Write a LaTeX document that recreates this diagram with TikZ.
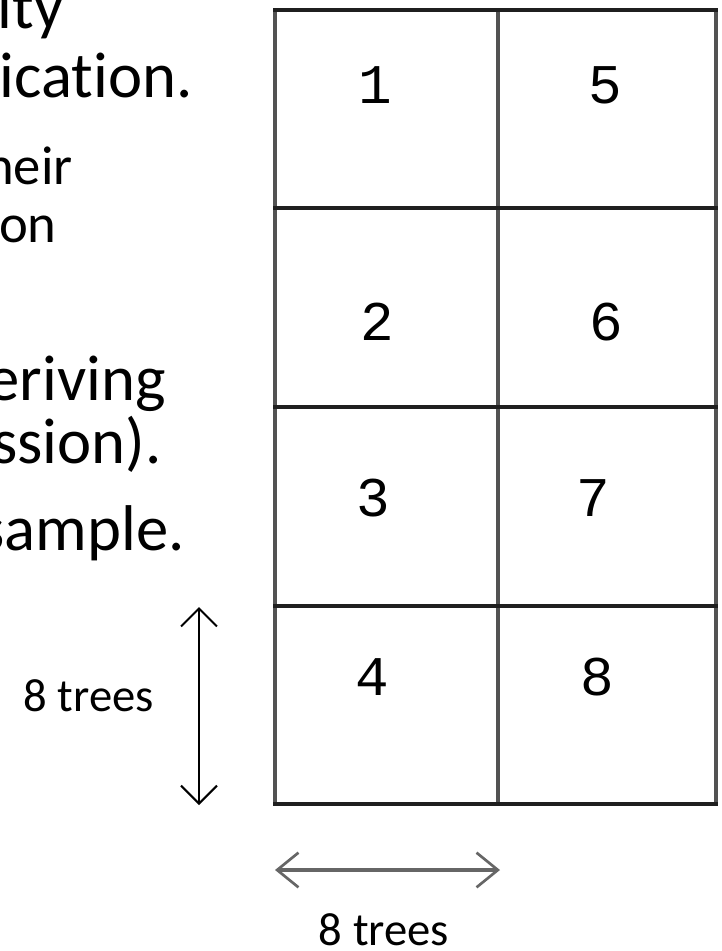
\documentclass[tikz,border=0pt]{standalone}
\usepackage{fontspec}
\setmainfont{Carlito}[Ligatures={NoCommon,NoRequired,NoContextual}]
\newfontfamily\digitfont{Liberation Mono}
\usetikzlibrary{arrows.meta}
\tikzset{
  bigtxt/.style={font=\fontsize{48.5}{48.5}\selectfont, inner sep=0pt, anchor=base east},
  smalltxt/.style={font=\fontsize{41}{41}\selectfont, inner sep=0pt, anchor=base east},
  lbl/.style={font=\fontsize{35}{35}\selectfont, inner sep=0pt},
  num/.style={font=\digitfont\fontsize{42}{42}\selectfont, inner sep=0pt},
  vgrid/.style={line width=3.2pt, draw=black!68},
  hgrid/.style={line width=2.6pt, draw=black!88},
  varrow/.style={line width=2pt, draw=black, {Straight Barb[length=13.5pt,width=27pt,line width=1.5pt]}-{Straight Barb[length=13.5pt,width=27pt,line width=1.5pt]}},
  harrow/.style={line width=2.8pt, draw=black!60, {Straight Barb[length=16pt,width=26pt,line width=2pt]}-{Straight Barb[length=16pt,width=26pt,line width=2pt]}}
}
\begin{document}
\begin{tikzpicture}[x=0.75pt,y=-0.75pt]
\useasboundingbox (0,0) rectangle (722,951);
\fill[white] (0,0) rectangle (722,951);
\clip (0,0) rectangle (722,951);

% left text fragments
\node[bigtxt] (t1) at (64,28) {ity};
\node[bigtxt] (t2) at (193,97) {ication.};
\node[smalltxt] (t3) at (73,184) {heir};
\node[smalltxt] (t4) at (57,242) {on};
\node[bigtxt] (t5) at (166,400) {eriving};
\node[bigtxt] (t6) at (162,463) {ssion).};
\node[bigtxt] (t7) at (185,550) {sample.};

% grid
\draw[vgrid] (275,10) -- (275,804);
\draw[vgrid] (498,10) -- (498,804);
\draw[vgrid] (716,10) -- (716,804);
\foreach \yy in {10,208,407,606,804} {
  \draw[hgrid] (273,\yy) -- (718,\yy);
}

% cell numbers
\node[num] (n1) at (375,85) {1};
\node[num] (n5) at (605,85) {5};
\node[num] (n2) at (377,322) {2};
\node[num] (n6) at (606,322) {6};
\node[num] (n3) at (373,498) {3};
\node[num] (n7) at (593,498) {7};
\node[num] (n4) at (372,677) {4};
\node[num] (n8) at (597,677) {8};

% dimension arrows
\coordinate (vtop) at (199,607);
\coordinate (vbot) at (199,805);
\draw[varrow] (vtop) -- (vbot);
\node[lbl, anchor=base east] (lv) at (154,711) {8 trees};

\coordinate (hleft) at (275,870);
\coordinate (hright) at (500,870);
\draw[harrow] (hleft) -- (hright);
\node[lbl, anchor=base] (lh) at (384,945) {8 trees};
\end{tikzpicture}
\end{document}
